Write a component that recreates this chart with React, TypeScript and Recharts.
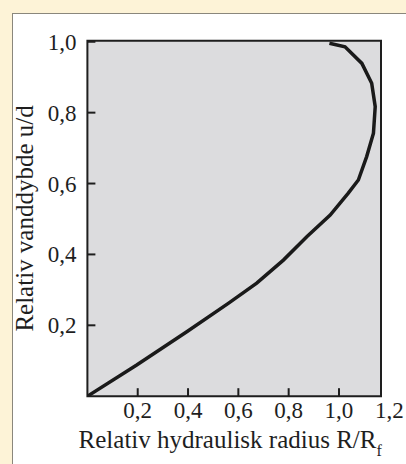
import { LineChart, Line, XAxis, YAxis, ReferenceArea } from 'recharts'

// Relativ hydraulisk radius R/Rf (x) mot relativ vanddybde u/d (y)
const radiusRatio = [0, 0.196, 0.395, 0.56, 0.673, 0.779, 0.872, 0.965, 1.037, 1.077, 1.11, 1.137, 1.144, 1.13, 1.091, 1.024, 0.962]
const depthRatio = [0, 0.088, 0.182, 0.262, 0.319, 0.384, 0.45, 0.511, 0.573, 0.61, 0.676, 0.742, 0.817, 0.883, 0.939, 0.986, 0.996]

const xTicks = [0.2, 0.4, 0.6, 0.8, 1.0, 1.2]
const yTicks = [0.2, 0.4, 0.6, 0.8, 1.0]

const X_MAX = 1.167
const Y_MAX = 1.003

const data = radiusRatio.map((r, i) => ({ r, u: depthRatio[i] }))

const FONT = "'Liberation Serif', 'Times New Roman', 'DejaVu Serif', serif"
const INK = '#1e1e1e'

const fmt = (v: number) => v.toFixed(1).replace('.', ',')

function XTick({ x, y, payload }: any) {
  const v = payload.value as number
  return (
    <g>
      {v < X_MAX && <line x1={x} y1={y} x2={x} y2={y - 8} stroke={INK} strokeWidth={2} />}
      <text x={x} y={y + 22} textAnchor="middle" style={{ fontFamily: FONT, fontSize: 23 }} fill={INK}>
        {fmt(v)}
      </text>
    </g>
  )
}

function YTick({ x, y, payload }: any) {
  const v = payload.value as number
  return (
    <g>
      <line x1={x} y1={y} x2={x + 8} y2={y} stroke={INK} strokeWidth={2} />
      <text x={x - 11} y={y} dy="0.35em" textAnchor="end" style={{ fontFamily: FONT, fontSize: 23 }} fill={INK}>
        {fmt(v)}
      </text>
    </g>
  )
}

export default function App() {
  return (
    <div style={{ position: 'absolute', left: 0, top: 0, width: 406, height: 464, background: '#fdf3d7', overflow: 'hidden', fontFamily: FONT }}>
      <div
        style={{
          position: 'absolute', left: 12, top: 13, right: 0, bottom: 0,
          background: '#ffffff', borderLeft: '1.5px solid #8a877c', borderTop: '1.5px solid #8a877c'
        }}
      />
      <div style={{ position: 'absolute', left: 0, top: 0 }}>
        <LineChart width={406} height={464} data={data} margin={{ top: 40.7, right: 25, bottom: 7.8, left: 17.4 }}>
          <XAxis
            dataKey="r"
            type="number"
            domain={[0, X_MAX]}
            allowDataOverflow
            ticks={xTicks}
            interval={0}
            tick={<XTick />}
            tickSize={0}
            tickMargin={0}
            tickLine={false}
            axisLine={false}
            height={60}
            label={{
              position: 'insideBottom',
              content: ({ viewBox }: any) => (
                <text
                  x={viewBox.x + viewBox.width / 2 - 4}
                  y={viewBox.y + 52}
                  textAnchor="middle"
                  style={{ fontFamily: FONT, fontSize: 25 }}
                  fill={INK}
                >
                  Relativ hydraulisk radius R/R
                  <tspan style={{ fontSize: 16 }} dy={8}>f</tspan>
                </text>
              )
            }}
          />
          <YAxis
            dataKey="u"
            type="number"
            domain={[0, Y_MAX]}
            allowDataOverflow
            ticks={yTicks}
            interval={0}
            tick={<YTick />}
            tickSize={0}
            tickMargin={0}
            tickLine={false}
            axisLine={false}
            width={70}
            label={{
              position: 'insideLeft',
              content: ({ viewBox }: any) => {
                const cx = 33
                const cy = viewBox.y + viewBox.height / 2
                return (
                  <text
                    x={cx}
                    y={cy}
                    transform={`rotate(-90 ${cx} ${cy})`}
                    textAnchor="middle"
                    style={{ fontFamily: FONT, fontSize: 25 }}
                    fill={INK}
                  >
                    Relativ vanddybde u/d
                  </text>
                )
              }
            }}
          />
          <ReferenceArea x1={0} x2={X_MAX} y1={0} y2={Y_MAX} fill="#dcdcde" fillOpacity={1} stroke={INK} strokeWidth={2} />
          <Line
            type="linear"
            dataKey="u"
            stroke="#1a1a1a"
            strokeWidth={3.5}
            dot={false}
            isAnimationActive={false}
          />
        </LineChart>
      </div>
    </div>
  )
}
